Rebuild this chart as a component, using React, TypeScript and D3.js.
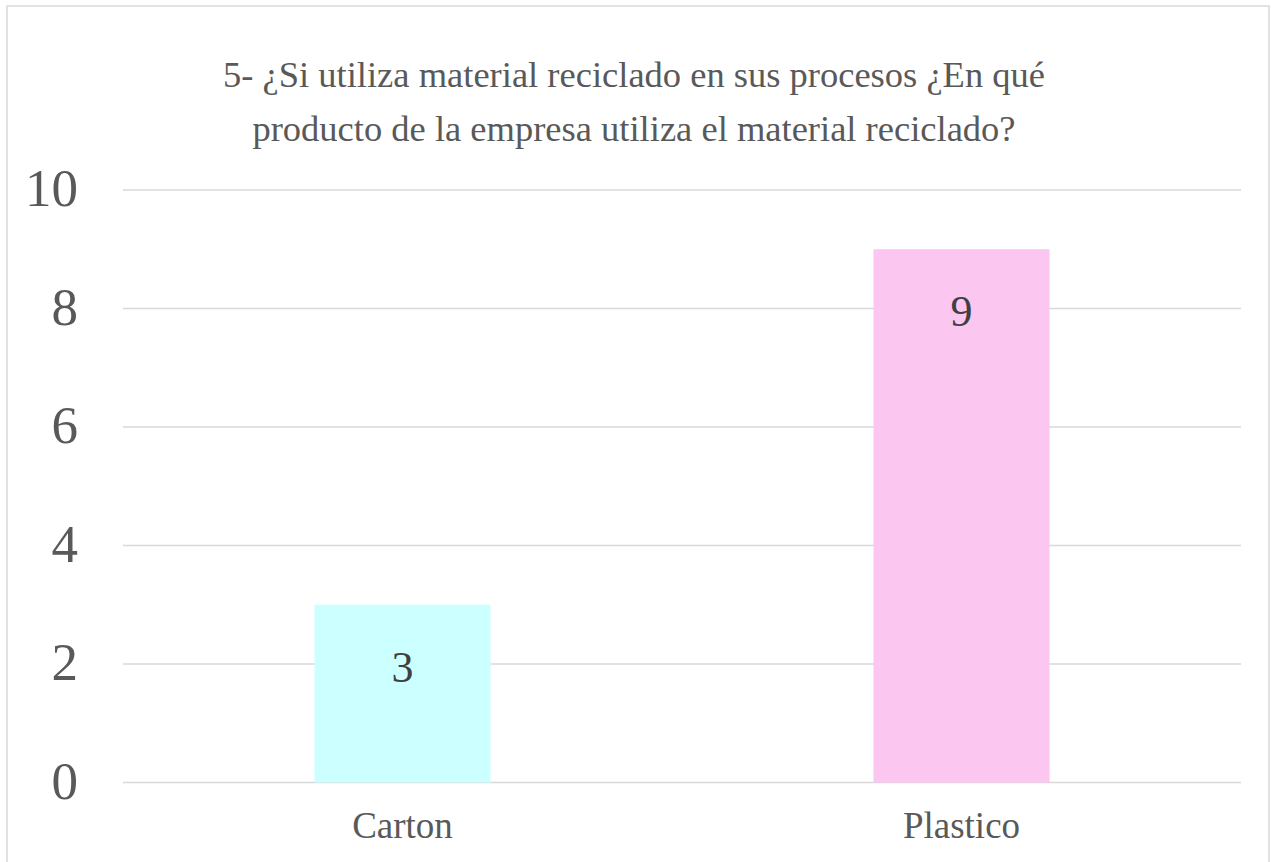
import React from "react";
import * as d3 from "d3";

const categories = ["Carton", "Plastico"];
const values = [3, 9];
const barColors = ["#CCFFFF", "#FBC6F0"];
const yTicks = [0, 2, 4, 6, 8, 10];
const titleLines = [
  "5- ¿Si utiliza material reciclado en sus procesos ¿En qué",
  "producto de la empresa utiliza el material reciclado?",
];

const W = 1271;
const H = 862;
const left = 123;
const right = 1241;
const top = 190;
const bottom = 782.5;
const font = "'Liberation Serif', 'Times New Roman', serif";

export default function App() {
  const x = d3
    .scaleBand<string>()
    .domain(categories)
    .range([left, right])
    .paddingInner(0.685)
    .paddingOuter(0.3425);
  const y = d3.scaleLinear().domain([0, 10]).range([bottom, top]);

  return (
    <svg
      width={W}
      height={H}
      style={{ position: "absolute", left: 0, top: 0, background: "#fff" }}
    >
      <rect x={0} y={0} width={W} height={H} fill="#fff" />
      <rect
        x={7}
        y={6}
        width={1262}
        height={H + 20}
        fill="#fff"
        stroke="#d9d9d9"
        strokeWidth={1.5}
      />
      {titleLines.map((t, i) => (
        <text
          key={i}
          x={634}
          y={87 + i * 54}
          textAnchor="middle"
          fontFamily={font}
          fontSize={36.5}
          fill="#595959"
        >
          {t}
        </text>
      ))}
      {yTicks.map((t) => (
        <g key={t}>
          <line
            x1={left}
            x2={right}
            y1={y(t)}
            y2={y(t)}
            stroke="#d9d9d9"
            strokeWidth={1.5}
          />
          <text
            x={78}
            y={y(t) + 16}
            textAnchor="end"
            fontFamily={font}
            fontSize={53}
            fill="#595959"
          >
            {t}
          </text>
        </g>
      ))}
      {categories.map((c, i) => (
        <g key={c}>
          <rect
            x={x(c)}
            y={y(values[i])}
            width={x.bandwidth()}
            height={y(0) - y(values[i])}
            fill={barColors[i]}
          />
          <text
            x={(x(c) as number) + x.bandwidth() / 2}
            y={y(values[i]) + 77}
            textAnchor="middle"
            fontFamily={font}
            fontSize={44}
            fill="#404040"
          >
            {values[i]}
          </text>
          <text
            x={(x(c) as number) + x.bandwidth() / 2}
            y={838}
            textAnchor="middle"
            fontFamily={font}
            fontSize={37}
            fill="#595959"
          >
            {c}
          </text>
        </g>
      ))}
    </svg>
  );
}
